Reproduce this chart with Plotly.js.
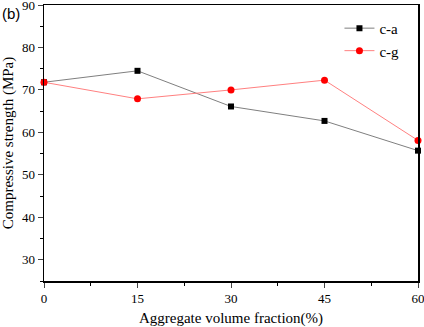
<!DOCTYPE html>
<html><head><meta charset="utf-8">
<script src="https://cdn.plot.ly/plotly-3.0.1.min.js"></script>
<style>html,body{margin:0;padding:0;background:#fff}#chart{width:424px;height:327px}</style>
</head><body><div id="chart"></div>
<script>
const fractions = [0, 15, 30, 45, 60];
const caValues = [71.8, 74.5, 66.1, 62.7, 55.7];
const cgValues = [71.8, 67.9, 70.0, 72.3, 58.1];
const xTicks = [0, 15, 30, 45, 60];
const yTicks = [30, 40, 50, 60, 70, 80, 90];

const serif = "'Liberation Serif', 'Times New Roman', serif";
const traces = [
  {x: fractions, y: caValues, name: 'c-a', mode: 'lines+markers', cliponaxis: false,
   line: {color: '#7f7f7f', width: 1}, marker: {symbol: 'square', size: 6, color: '#000'}},
  {x: fractions, y: cgValues, name: 'c-g', mode: 'lines+markers', cliponaxis: false,
   line: {color: '#ff8080', width: 1}, marker: {symbol: 'circle', size: 7, color: '#ff0000'}}
];
const layout = {
  width: 424, height: 327,
  margin: {l: 44, r: 6, t: 5, b: 46},
  paper_bgcolor: '#fff', plot_bgcolor: '#fff',
  showlegend: true,
  legend: {x: 0.79, y: 0.975, xanchor: 'left', yanchor: 'top', bgcolor: 'rgba(0,0,0,0)',
    font: {family: serif, size: 15, color: '#000'}, tracegroupgap: 0, itemwidth: 30},
  xaxis: {range: [0, 60], tickvals: xTicks, ticks: 'outside', ticklen: 5, tickwidth: 1,
    ticklabeloverflow: 'allow',
    showline: true, linecolor: '#000', linewidth: 1.5, mirror: true, showgrid: false, zeroline: false,
    minor: {ticks: 'outside', ticklen: 3, dtick: 7.5, tick0: 0, tickcolor: '#000', showgrid: false},
    tickfont: {family: serif, size: 13, color: '#000'},
    title: {text: 'Aggregate volume fraction(%)', font: {family: serif, size: 15, color: '#000'}, standoff: 12}},
  yaxis: {range: [25, 90], tickvals: yTicks, ticks: 'outside', ticklen: 5, tickwidth: 1,
    ticklabeloverflow: 'allow',
    showline: true, linecolor: '#000', linewidth: 1.5, mirror: true, showgrid: false, zeroline: false,
    minor: {ticks: 'outside', ticklen: 3, dtick: 5, tick0: 25, tickcolor: '#000', showgrid: false},
    tickfont: {family: serif, size: 13, color: '#000'},
    title: {text: 'Compressive strength (MPa)', font: {family: serif, size: 15, color: '#000'}, standoff: 8}},
  annotations: [{text: '(b)', xref: 'paper', yref: 'paper', x: -0.118, y: 0.968, xanchor: 'left', yanchor: 'middle',
    showarrow: false, font: {family: "'Liberation Sans', Arial, sans-serif", size: 15, color: '#000'}}]
};
Plotly.newPlot('chart', traces, layout, {displayModeBar: false, staticPlot: true});
</script></body></html>
